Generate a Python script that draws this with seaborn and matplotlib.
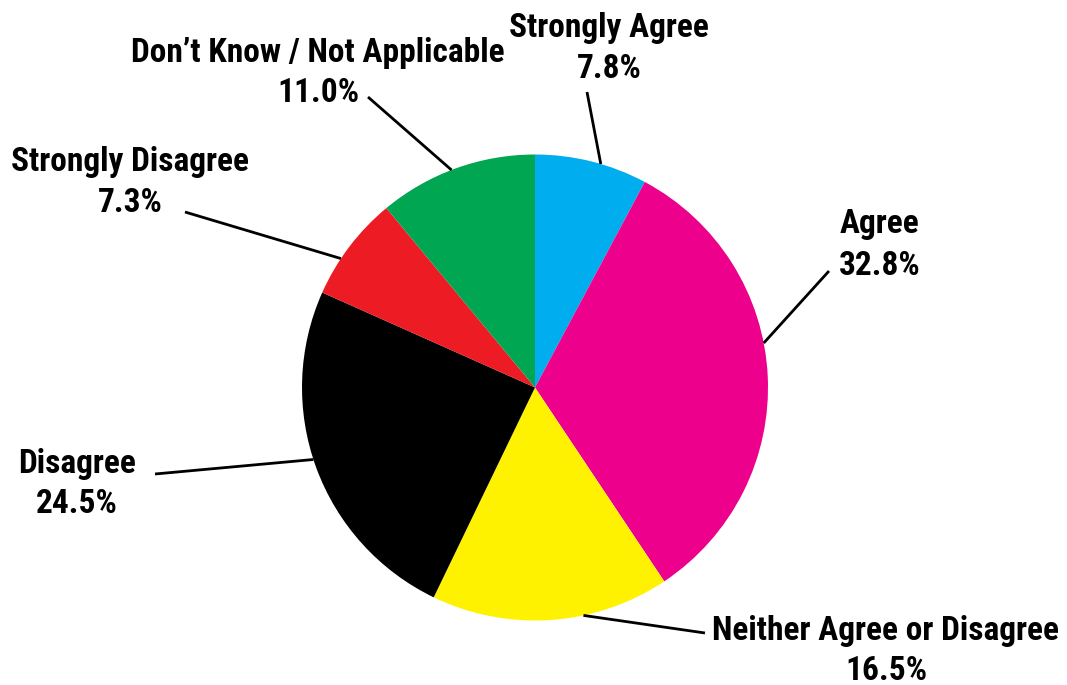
import numpy as np
import matplotlib
matplotlib.use("Agg")
import matplotlib.pyplot as plt
import seaborn as sns

# Survey responses (percent of respondents), clockwise from 12 o'clock
categories = ["Strongly Agree", "Agree", "Neither Agree or Disagree",
              "Disagree", "Strongly Disagree", "Don\u2019t Know / Not Applicable"]
shares = [7.8, 32.8, 16.5, 24.5, 7.3, 11.0]
colors = ["#00AEEF", "#EC008C", "#FFF200", "#000000", "#ED1C24", "#00A651"]

sns.set_theme(style="white")
plt.rcParams["font.family"] = ["Roboto Condensed", "DejaVu Sans"]

W, H, DPI = 1067, 685, 100
CX, CY, R = 535.0, 387.5, 233.0  # pie centre and radius in pixels

fig = plt.figure(figsize=(W / DPI, H / DPI), dpi=DPI)
ax = fig.add_axes([0, 0, 1, 1])

ax.pie(shares, colors=colors, startangle=90, counterclock=False,
       radius=1.0, center=(0, 0), wedgeprops=dict(linewidth=0))

ax.set_xlim(-CX / R, (W - CX) / R)
ax.set_ylim(-(H - CY) / R, CY / R)
ax.set_aspect("equal")
ax.axis("off")


def px(x, y):
    return (x - CX) / R, (CY - y) / R


# label layout: centre x, baseline of name, baseline of value, line start, anchor angle on rim
layout = [
    (609, 37, 78, (587, 92), 73.6),
    (880, 233, 275, (829, 271), 11.0),
    (886, 640, 680, (705, 633), 282.0),
    (77, 473, 513, (155, 474), 198.0),
    (130, 171, 212, (185, 212), 146.4),
    (318, 62, 102, (368, 97), 111.0),
]

fs = 24
for name, val, (tx, b1, b2, start, ang) in zip(categories, shares, layout):
    ax.text(*px(tx, b1), name, ha="center", va="baseline",
            fontsize=fs, fontweight="bold", color="black")
    ax.text(*px(tx, b2), f"{val:.1f}%", ha="center", va="baseline",
            fontsize=fs, fontweight="bold", color="black")
    a = np.deg2rad(ang)
    x0, y0 = px(*start)
    ax.plot([x0, np.cos(a)], [y0, np.sin(a)], color="black", lw=2,
            solid_capstyle="butt")

fig.savefig("out.png", dpi=DPI, facecolor="white")
